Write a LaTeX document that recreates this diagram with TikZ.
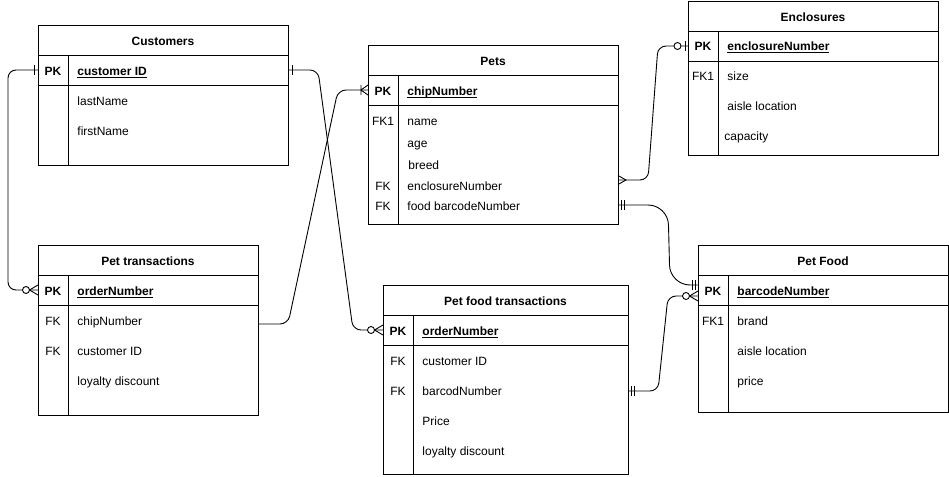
\documentclass[tikz,border=0pt]{standalone}
\usepackage{fontspec}
\setmainfont{Liberation Sans}
\usetikzlibrary{positioning}

\newcommand{\pkfield}[1]{\underline{\smash{#1}}}

\begin{document}
\begin{tikzpicture}[
      x = 1pt, y = -1pt,
      line width = 0.9pt,
      every node/.style = {font=\fontsize{12}{14}\selectfont},
      one/.pic = {\draw (-4,-5) -- (-4,5);},
      mandone/.pic = {\draw (-3,-5) -- (-3,5) (-6,-5) -- (-6,5);},
      many/.pic = {\draw (0,-4.5) -- (-8,0) -- (0,4.5);},
      onemany/.pic = {\draw (0,-5) -- (-7,0) -- (0,5) (-7,-5) -- (-7,5);},
      zeromany/.pic = {\draw (0,-5) -- (-8.5,0) -- (0,5);
                       \draw[fill=white] (-12,0) circle (3.5pt);},
      zeroone/.pic = {\draw (-3,-5) -- (-3,5);
                      \draw[fill=white] (-10.5,0) circle (3.5pt);}]
      \tikzstyle{tabhead}=[draw, outer sep=0pt, inner sep=0pt,
        minimum height=30, text height=11pt, text depth=0.5pt,
        font=\fontsize{12}{14}\selectfont\bfseries]
      \tikzstyle{tabrow}=[draw, outer sep=0pt, inner sep=0pt]
      \tikzstyle{keytxt}=[inner sep=0pt, text height=11pt, text depth=1.5pt]
      \tikzstyle{fieldtxt}=[keytxt, anchor=west]
      \tikzstyle{link}=[rounded corners=8pt]

      \useasboundingbox (0,0) rectangle (949,476);

      % Customers
      \node[tabhead, minimum width=250, anchor=north west] (cust) at (38,25) {Customers};
      \node[tabrow, minimum width=250, minimum height=30, below=0pt of cust] (custpk) {};
      \node[tabrow, minimum width=250, minimum height=80, below=0pt of custpk] (custbody) {};
      \draw ([xshift=30]custpk.north west) -- ([xshift=30]custbody.south west);
      \node[keytxt] (custk) at (53,71) {\textbf{PK}};
      \node[fieldtxt] (custid) at (77,71) {\textbf{\pkfield{customer ID}}};
      \node[fieldtxt] (custlast) at (77,101) {lastName};
      \node[fieldtxt] (custfirst) at (77,131) {firstName};

      % Pets
      \node[tabhead, minimum width=250, anchor=north west] (pets) at (368,45) {Pets};
      \node[tabrow, minimum width=250, minimum height=30, below=0pt of pets] (petspk) {};
      \node[tabrow, minimum width=250, minimum height=119, below=0pt of petspk] (petsbody) {};
      \draw ([xshift=30]petspk.north west) -- ([xshift=30]petsbody.south west);
      \node[keytxt] (petsk) at (383,91) {\textbf{PK}};
      \node[fieldtxt] (petschip) at (407,91) {\textbf{\pkfield{chipNumber}}};
      \node[keytxt] (petsk1) at (383,121) {FK1};
      \node[fieldtxt] (petsname) at (407,121) {name};
      \node[fieldtxt] (petsage) at (407,143) {age};
      \node[fieldtxt] (petsbreed) at (408,165) {breed};
      \node[keytxt] (petsk2) at (383,186) {FK};
      \node[fieldtxt] (petsencl) at (407,186) {enclosureNumber};
      \node[keytxt] (petsk3) at (383,206) {FK};
      \node[fieldtxt] (petsfood) at (407,206) {food barcodeNumber};

      % Enclosures
      \node[tabhead, minimum width=250, anchor=north west] (encl) at (688,1) {Enclosures};
      \node[tabrow, minimum width=250, minimum height=30, below=0pt of encl] (enclpk) {};
      \node[tabrow, minimum width=250, minimum height=94, below=0pt of enclpk] (enclbody) {};
      \draw ([xshift=30]enclpk.north west) -- ([xshift=30]enclbody.south west);
      \node[keytxt] (enclk) at (703,46) {\textbf{PK}};
      \node[fieldtxt] (enclno) at (727,46) {\textbf{\pkfield{enclosureNumber}}};
      \node[keytxt] (enclk1) at (703,76) {FK1};
      \node[fieldtxt] (enclsize) at (727,76) {size};
      \node[fieldtxt] (enclaisle) at (727,106) {aisle location};
      \node[fieldtxt] (enclcap) at (724,136) {capacity};

      % Pet transactions
      \node[tabhead, minimum width=220, anchor=north west] (ptr) at (38,245) {Pet transactions};
      \node[tabrow, minimum width=220, minimum height=30, below=0pt of ptr] (ptrpk) {};
      \node[tabrow, minimum width=220, minimum height=110, below=0pt of ptrpk] (ptrbody) {};
      \draw ([xshift=30]ptrpk.north west) -- ([xshift=30]ptrbody.south west);
      \node[keytxt] (ptrk) at (53,291) {\textbf{PK}};
      \node[fieldtxt] (ptrorder) at (77,291) {\textbf{\pkfield{orderNumber}}};
      \node[keytxt] (ptrk1) at (53,321) {FK};
      \node[fieldtxt] (ptrchip) at (77,321) {chipNumber};
      \node[keytxt] (ptrk2) at (53,351) {FK};
      \node[fieldtxt] (ptrcust) at (77,351) {customer ID};
      \node[fieldtxt] (ptrloyal) at (77,381) {loyalty discount};

      % Pet food transactions
      \node[tabhead, minimum width=245, anchor=north west] (pft) at (383,285) {Pet food transactions};
      \node[tabrow, minimum width=245, minimum height=30, below=0pt of pft] (pftpk) {};
      \node[tabrow, minimum width=245, minimum height=129, below=0pt of pftpk] (pftbody) {};
      \draw ([xshift=30]pftpk.north west) -- ([xshift=30]pftbody.south west);
      \node[keytxt] (pftk) at (398,331) {\textbf{PK}};
      \node[fieldtxt] (pftorder) at (422,331) {\textbf{\pkfield{orderNumber}}};
      \node[keytxt] (pftk1) at (398,361) {FK};
      \node[fieldtxt] (pftcust) at (422,361) {customer ID};
      \node[keytxt] (pftk2) at (398,391) {FK};
      \node[fieldtxt] (pftbarc) at (422,391) {barcodNumber};
      \node[fieldtxt] (pftprice) at (422,421) {Price};
      \node[fieldtxt] (pftloyal) at (422,451) {loyalty discount};

      % Pet Food
      \node[tabhead, minimum width=250, anchor=north west] (food) at (698,245) {Pet Food};
      \node[tabrow, minimum width=250, minimum height=30, below=0pt of food] (foodpk) {};
      \node[tabrow, minimum width=250, minimum height=107, below=0pt of foodpk] (foodbody) {};
      \draw ([xshift=30]foodpk.north west) -- ([xshift=30]foodbody.south west);
      \node[keytxt] (foodk) at (713,291) {\textbf{PK}};
      \node[fieldtxt] (foodbarc) at (737,291) {\textbf{\pkfield{barcodeNumber}}};
      \node[keytxt] (foodk1) at (713,321) {FK1};
      \node[fieldtxt] (foodbrand) at (737,321) {brand};
      \node[fieldtxt] (foodaisle) at (737,351) {aisle location};
      \node[fieldtxt] (foodprice) at (737,381) {price};

      % relations
      \coordinate (ptr-chip) at ([yshift=-3pt]ptrbody.east |- ptrchip.west);
      \coordinate (pets-encl) at ([yshift=6pt]petsbody.east |- petsencl.west);
      \coordinate (pets-food) at ([yshift=1pt]petsbody.east |- petsfood.west);
      \coordinate (pft-food) at (pftbody.east |- pftbarc.west);
      \coordinate (food-a) at ([yshift=5pt]foodpk.west);
      \coordinate (food-b) at ([yshift=-6pt]foodpk.west);

      \draw[link] (custpk.east) -- ++(30,0) -- ([xshift=-30]pftpk.west) -- (pftpk.west);
      \draw[link] (custpk.west) -- ++(-30,0) -- ([xshift=-30]ptrpk.west) -- (ptrpk.west);
      \draw[link] (ptr-chip) -- ++(30,0) -- ([xshift=-30]petspk.west) -- (petspk.west);
      \draw[link] (pets-encl) -- ++(30,0) -- ([xshift=-30]enclpk.west) -- (enclpk.west);
      \draw[link, rounded corners=20pt] (pets-food) -- ++(50,0) -- ([xshift=-28]food-a) -- (food-a);
      \draw[link] (pft-food) -- ++(30,0) -- ([xshift=-30]food-b) -- (food-b);

      \pic[xscale=-1] at (custpk.east) {one};
      \pic at (pftpk.west) {zeromany};
      \pic at (custpk.west) {one};
      \pic at (ptrpk.west) {zeromany};
      \pic at (petspk.west) {onemany};
      \pic[xscale=-1] at (pets-encl) {many};
      \pic at (enclpk.west) {zeroone};
      \pic[xscale=-1] at (pets-food) {mandone};
      \pic at (food-a) {mandone};
      \pic[xscale=-1] at (pft-food) {mandone};
      \pic at (food-b) {zeromany};
\end{tikzpicture}
\end{document}
